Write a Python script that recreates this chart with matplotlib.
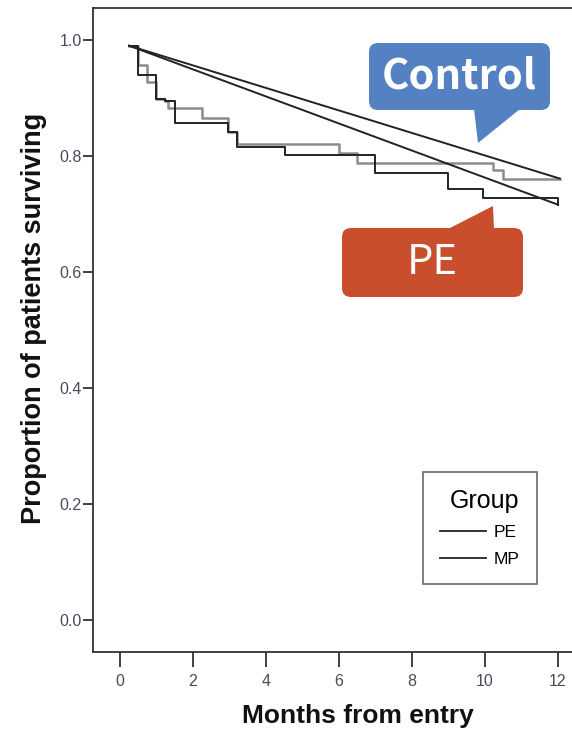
import matplotlib
matplotlib.use("Agg")
import matplotlib.pyplot as plt
import matplotlib.transforms as mtransforms
from matplotlib.patches import FancyBboxPatch, Polygon

# ====================== date ======================
months_pe = [0.25, 0.48, 0.73, 0.98, 1.23, 1.51, 2.97, 3.21, 4.52, 6.99, 9.0, 9.95, 12.0]
surv_pe   = [0.99, 0.940, 0.940, 0.899, 0.894, 0.856, 0.842, 0.816, 0.802, 0.770, 0.743, 0.727, 0.716]

months_mp = [0.25, 0.48, 0.73, 0.98, 1.23, 1.32, 2.24, 2.97, 3.21, 6.01, 6.48, 10.23, 10.5, 12.05]
surv_mp   = [0.99, 0.957, 0.928, 0.899, 0.894, 0.882, 0.865, 0.842, 0.821, 0.805, 0.787, 0.776, 0.761, 0.761]

x_ticks = [0, 2, 4, 6, 8, 10, 12]
y_ticks = [0.0, 0.2, 0.4, 0.6, 0.8, 1.0]
group_labels = ["PE", "MP"]
callout_texts = ["Control", "PE"]

W, H = 572, 731
plt.rcParams['font.family'] = ['Liberation Sans', 'DejaVu Sans']

fig = plt.figure(figsize=(W / 100, H / 100), dpi=100)
# axa: stanga 93px, jos 652px, sus 8px, dreapta iese din imagine
ax = fig.add_axes([93 / W, (H - 652) / H, (585 - 93) / W, (652 - 8) / H])

# curbele in trepte + linia dreapta care le inchide
ax.plot(months_mp, surv_mp, drawstyle='steps-post', color='#8c8c8c', lw=1.8, label=group_labels[1])
ax.plot(months_pe, surv_pe, drawstyle='steps-post', color='#222222', lw=1.4, label=group_labels[0])
ax.plot([months_mp[0], months_mp[-1]], [surv_mp[0], surv_mp[-1]], color='#222222', lw=1.4)
ax.plot([months_pe[0], months_pe[-1]], [surv_pe[0], surv_pe[-1]], color='#222222', lw=1.4)

ax.set_xlim(-0.74, 12.74)
ax.set_ylim(-0.055, 1.055)
ax.set_xticks(x_ticks)
ax.set_yticks(y_ticks)
ax.set_yticklabels([f"{v:.1f}" for v in y_ticks])
ax.spines['right'].set_visible(False)
for s in ['left', 'bottom', 'top']:
    ax.spines[s].set_color('#333333')
    ax.spines[s].set_linewidth(1.3)
ax.tick_params(axis='x', length=10.5, width=1.3, color='#333333', pad=5, labelsize=11.5, labelcolor='#4a4a5a')
ax.tick_params(axis='y', length=7, width=1.3, color='#333333', pad=1, labelsize=11.5, labelcolor='#4a4a5a')

ax.set_xlabel('Months from entry', fontsize=19, fontweight='bold', color='#111111')
ax.xaxis.set_label_coords((358 - 93) / 492, -(723 - 652) / 644)
ax.xaxis.label.set_va('baseline')
ax.set_ylabel('Proportion of patients surviving', fontsize=19.5, fontweight='bold', color='#111111')
ax.yaxis.set_label_coords(-0.093, (652 - 318) / 644)

# legenda
handles, labels = ax.get_legend_handles_labels()
leg = ax.legend(handles[::-1], labels[::-1], title='Group', loc='lower right',
                bbox_to_anchor=((537 - 93) / (585 - 93), (652 - 584) / 644),
                borderaxespad=0, fontsize=12.5, title_fontsize=18, handlelength=2.65,
                handletextpad=0.45, frameon=True, fancybox=False, edgecolor='#444444',
                alignment='right', borderpad=1.0, labelspacing=0.66)
leg.get_frame().set_linewidth(1.2)
for line in leg.get_lines():
    line.set_color('#222222')
    line.set_linewidth(1.3)

# ====================== baloane (coordonate in pixeli, de sus) ======================
pix = mtransforms.Affine2D().scale(1, -1).translate(0, H)

def balon(x0, y0, x1, y1, tail, color, text, weight):
    box = FancyBboxPatch((x0, H - y1), x1 - x0, y1 - y0, boxstyle='round,pad=0,rounding_size=9',
                         transform=mtransforms.IdentityTransform(),
                         facecolor=color, edgecolor='none')
    fig.patches.append(box)
    tri = Polygon(tail, closed=True, transform=pix, facecolor=color, edgecolor='none')
    fig.patches.append(tri)
    fig.text((x0 + x1) / 2 / W, 1 - (y0 + y1) / 2 / H, text, ha='center', va='center',
             color='white', fontsize=30, fontweight=weight,
             family=['Noto Sans CJK JP', 'DejaVu Sans'])

balon(369, 43, 550, 110, [(474, 109), (520, 109), (478, 143)], '#5481c1', callout_texts[0], 'bold')
balon(342, 228, 523, 297, [(448, 229), (494, 229), (493, 206)], '#c94e2b', callout_texts[1], 'normal')

fig.savefig('out.png', dpi=100)
